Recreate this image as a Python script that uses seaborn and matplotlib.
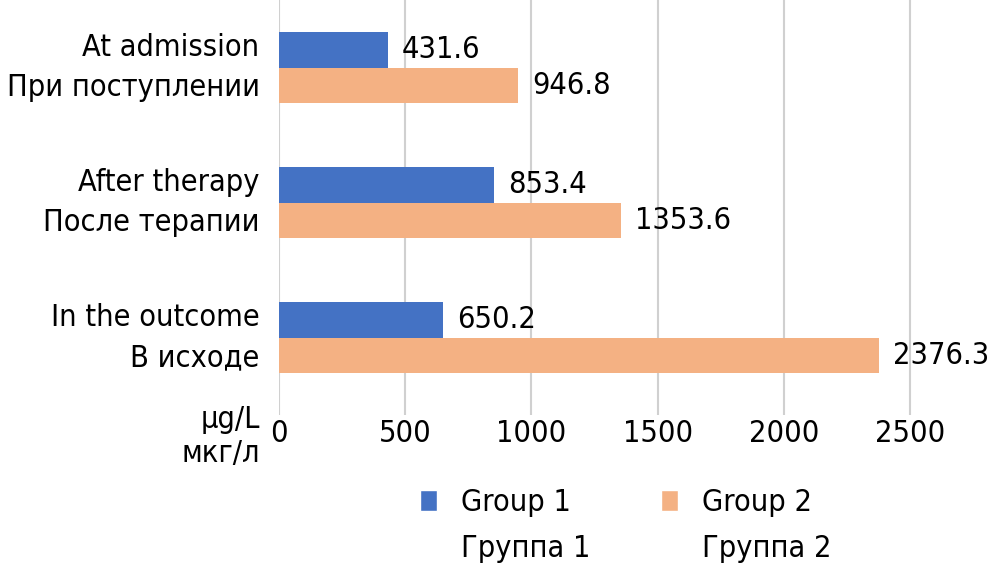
import pandas as pd
import seaborn as sns
import matplotlib.pyplot as plt
from matplotlib.patches import Patch

# данные
stages = ['At admission\nПри поступлении', 'After therapy\nПосле терапии', 'In the outcome\nВ исходе']
group1 = [431.6, 853.4, 650.2]
group2 = [946.8, 1353.6, 2376.3]
groups = ['Group 1', 'Group 2']
colors = ['#4472C4', '#F4B183']

df = pd.DataFrame({
    'stage': stages * 2,
    'value': group1 + group2,
    'group': [groups[0]] * 3 + [groups[1]] * 3,
})

sns.set_style('white')
plt.rcParams['font.family'] = ['DejaVu Sans']
plt.rcParams['font.stretch'] = 'condensed'
plt.rcParams['text.color'] = 'black'
plt.rcParams['xtick.color'] = 'black'
plt.rcParams['ytick.color'] = 'black'

fs = 22

fig = plt.figure(figsize=(9.9, 5.7), dpi=100)
ax = fig.add_axes([0.2818, 0.2719, 0.7182, 0.7281])

sns.barplot(data=df, x='value', y='stage', hue='group', hue_order=groups,
            palette=colors, orient='h', width=0.52, gap=0, saturation=1,
            linewidth=0, legend=False, ax=ax)

for c in ax.containers:
    ax.bar_label(c, fmt='%.1f', padding=10, fontsize=fs, clip_on=False)

ax.set_xlim(0, 2817)
ax.set_ylim(2.574, -0.5)
ax.set_xticks([0, 500, 1000, 1500, 2000, 2500])
ax.xaxis.grid(True, color='#D0D0D0', linewidth=1.5)
ax.set_axisbelow(True)
for s in ax.spines.values():
    s.set_visible(False)
ax.tick_params(axis='both', length=0, labelsize=fs)
ax.tick_params(axis='x', pad=3)
ax.tick_params(axis='y', pad=14)
for tick in ax.yaxis.get_major_ticks():
    tick.label1.set_linespacing(1.5)
    tick.label1.set_verticalalignment('center')
ax.set_xlabel('')
ax.set_ylabel('')

ax.text(-0.027, 0.025, 'μg/L\nмкг/л', transform=ax.transAxes, ha='right', va='top',
        fontsize=fs, linespacing=1.25)

handles = [Patch(facecolor=colors[0]), Patch(facecolor='none', edgecolor='none'),
           Patch(facecolor=colors[1]), Patch(facecolor='none', edgecolor='none')]
labels = ['Group 1', 'Группа 1', 'Group 2', 'Группа 2']
fig.legend(handles, labels, ncol=2, loc='center', bbox_to_anchor=(0.632, 0.078),
           frameon=False, fontsize=fs, handlelength=0.55, handleheight=0.72,
           handletextpad=0.8, columnspacing=2.3, labelspacing=0.55)

fig.savefig('out.png', dpi=100)
